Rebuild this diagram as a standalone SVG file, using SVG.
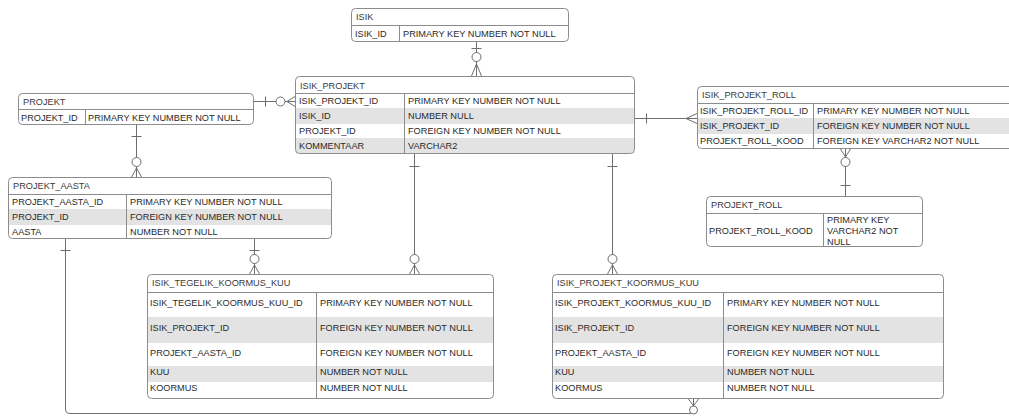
<svg xmlns="http://www.w3.org/2000/svg" width="1009" height="416" viewBox="0 0 1009 416">
<style>
  text { font-family: "Liberation Sans", Arial, sans-serif; font-size: 9.2px; fill: #2a2a2a; }
  text.h { fill: #3a3a3a; }
  .box { fill: none; stroke: #8c8c8c; stroke-width: 1; }
  .bg { fill: #ffffff; }
  .g { fill: #e3e3e3; }
  .hl { stroke: #8c8c8c; stroke-width: 1; }
  .dv { stroke: #8c8c8c; stroke-width: 1; }
  .rl { stroke: #d8d8d8; stroke-width: 0.6; }
  .c { fill: none; stroke: #6e6e6e; stroke-width: 1; }
  .ci { fill: #ffffff; stroke: #6e6e6e; stroke-width: 1; }
</style>
<rect width="1009" height="416" fill="#ffffff"/>

<g id="connectors">
  <!-- ISIK -> ISIK_PROJEKT -->
  <path class="c" d="M476.5,42 V76 M471.5,48.5 H481.5 M476.5,64 L471.5,76 M476.5,64 L481.5,76"/>
  <circle class="ci" cx="476.5" cy="57" r="4.5"/>
  <!-- PROJEKT -> ISIK_PROJEKT -->
  <path class="c" d="M253,101.5 H295 M265.5,96.5 V106.5 M287,101.5 L295,96.5 M287,101.5 L295,106.5"/>
  <circle class="ci" cx="280.5" cy="101.5" r="4.5"/>
  <!-- PROJEKT -> PROJEKT_AASTA -->
  <path class="c" d="M136.5,125 V177 M131.5,136.5 H141.5 M136.5,168 L131.5,177 M136.5,168 L141.5,177"/>
  <circle class="ci" cx="136.5" cy="162" r="4.5"/>
  <!-- ISIK_PROJEKT -> ISIK_PROJEKT_ROLL -->
  <path class="c" d="M634,118.5 H697 M646.5,113.5 V123.5 M686,118.5 L697,113.5 M686,118.5 L697,123.5"/>
  <!-- ISIK_PROJEKT_ROLL -> PROJEKT_ROLL -->
  <path class="c" d="M845.5,149 V196 M845.5,157 L840.5,149 M845.5,157 L850.5,149 M840.5,185.5 H850.5"/>
  <circle class="ci" cx="845.5" cy="162" r="4.5"/>
  <!-- PROJEKT_AASTA -> ISIK_TEGELIK_KOORMUS_KUU -->
  <path class="c" d="M254.5,239 V274 M249.5,250.5 H259.5 M254.5,265 L249.5,274 M254.5,265 L259.5,274"/>
  <circle class="ci" cx="254.5" cy="259" r="4.5"/>
  <!-- ISIK_PROJEKT -> ISIK_TEGELIK_KOORMUS_KUU -->
  <path class="c" d="M414.5,154 V274 M409.5,166.5 H419.5 M414.5,265 L409.5,274 M414.5,265 L419.5,274"/>
  <circle class="ci" cx="414.5" cy="259" r="4.5"/>
  <!-- ISIK_PROJEKT -> ISIK_PROJEKT_KOORMUS_KUU -->
  <path class="c" d="M612.5,154 V274 M607.5,166.5 H617.5 M612.5,265 L607.5,274 M612.5,265 L617.5,274"/>
  <circle class="ci" cx="612.5" cy="259" r="4.5"/>
  <!-- PROJEKT_AASTA -> ISIK_PROJEKT_KOORMUS_KUU -->
  <path class="c" d="M65.5,239 V409 Q65.5,413.5 70,413.5 H689 Q693.5,413.5 693.5,409 V399 M60.5,250.5 H70.5 M693.5,406 L688.5,399 M693.5,406 L698.5,399"/>
  <circle class="ci" cx="693.5" cy="410" r="4"/>
</g>

<g id="ISIK">
  <rect class="bg" x="351.5" y="8.5" width="217" height="33" rx="4"/>
  <line class="hl" x1="351.5" y1="25.5" x2="568.5" y2="25.5"/>
  <line class="dv" x1="399.5" y1="25.5" x2="399.5" y2="41.5"/>
  <rect class="box" x="351.5" y="8.5" width="217" height="33" rx="4"/>
  <text class="h" x="356" y="20">ISIK</text>
  <text x="355" y="37">ISIK_ID</text>
  <text x="403" y="37">PRIMARY KEY NUMBER NOT NULL</text>
</g>

<g id="ISIK_PROJEKT">
  <rect class="bg" x="295.5" y="76.5" width="339" height="77" rx="4"/>
  <rect class="g" x="296" y="108.5" width="338" height="15"/>
  <path class="g" d="M296,138.5 H634 V150 Q634,153 631,153 H299 Q296,153 296,150 Z"/>
  <line class="hl" x1="295.5" y1="93.5" x2="634.5" y2="93.5"/>
  <line class="rl" x1="296" y1="108.5" x2="634" y2="108.5"/>
  <line class="rl" x1="296" y1="123.5" x2="634" y2="123.5"/>
  <line class="rl" x1="296" y1="138.5" x2="634" y2="138.5"/>
  <line class="dv" x1="404.5" y1="93.5" x2="404.5" y2="153.5"/>
  <rect class="box" x="295.5" y="76.5" width="339" height="77" rx="4"/>
  <text class="h" x="300" y="89">ISIK_PROJEKT</text>
  <text x="299" y="104">ISIK_PROJEKT_ID</text>
  <text x="408" y="104">PRIMARY KEY NUMBER NOT NULL</text>
  <text x="299" y="119">ISIK_ID</text>
  <text x="408" y="119">NUMBER NULL</text>
  <text x="299" y="134">PROJEKT_ID</text>
  <text x="408" y="134">FOREIGN KEY NUMBER NOT NULL</text>
  <text x="299" y="149">KOMMENTAAR</text>
  <text x="408" y="149">VARCHAR2</text>
</g>

<g id="PROJEKT">
  <rect class="bg" x="18.5" y="93.5" width="235" height="31" rx="4"/>
  <line class="hl" x1="18.5" y1="109.5" x2="253.5" y2="109.5"/>
  <line class="dv" x1="85.5" y1="109.5" x2="85.5" y2="124.5"/>
  <rect class="box" x="18.5" y="93.5" width="235" height="31" rx="4"/>
  <text class="h" x="23" y="105">PROJEKT</text>
  <text x="21" y="121">PROJEKT_ID</text>
  <text x="88" y="121">PRIMARY KEY NUMBER NOT NULL</text>
</g>

<g id="PROJEKT_AASTA">
  <rect class="bg" x="8.5" y="177.5" width="323" height="61" rx="4"/>
  <rect class="g" x="9" y="209.5" width="322" height="15"/>
  <line class="hl" x1="8.5" y1="194.5" x2="331.5" y2="194.5"/>
  <line class="rl" x1="9" y1="209.5" x2="331" y2="209.5"/>
  <line class="rl" x1="9" y1="224.5" x2="331" y2="224.5"/>
  <line class="dv" x1="126.5" y1="194.5" x2="126.5" y2="238.5"/>
  <rect class="box" x="8.5" y="177.5" width="323" height="61" rx="4"/>
  <text class="h" x="13" y="189">PROJEKT_AASTA</text>
  <text x="12" y="205">PROJEKT_AASTA_ID</text>
  <text x="130" y="205">PRIMARY KEY NUMBER NOT NULL</text>
  <text x="12" y="220">PROJEKT_ID</text>
  <text x="130" y="220">FOREIGN KEY NUMBER NOT NULL</text>
  <text x="12" y="235">AASTA</text>
  <text x="130" y="235">NUMBER NOT NULL</text>
</g>

<g id="ISIK_PROJEKT_ROLL">
  <rect class="bg" x="697.5" y="86.5" width="330" height="62" rx="4"/>
  <rect class="g" x="698" y="118.5" width="330" height="15"/>
  <line class="hl" x1="697.5" y1="103.5" x2="1027" y2="103.5"/>
  <line class="rl" x1="698" y1="118.5" x2="1027" y2="118.5"/>
  <line class="rl" x1="698" y1="133.5" x2="1027" y2="133.5"/>
  <line class="dv" x1="813.5" y1="103.5" x2="813.5" y2="148.5"/>
  <rect class="box" x="697.5" y="86.5" width="330" height="62" rx="4"/>
  <text class="h" x="702" y="98">ISIK_PROJEKT_ROLL</text>
  <text x="700" y="114">ISIK_PROJEKT_ROLL_ID</text>
  <text x="817" y="114">PRIMARY KEY NUMBER NOT NULL</text>
  <text x="700" y="129">ISIK_PROJEKT_ID</text>
  <text x="817" y="129">FOREIGN KEY NUMBER NOT NULL</text>
  <text x="700" y="144">PROJEKT_ROLL_KOOD</text>
  <text x="817" y="144">FOREIGN KEY VARCHAR2 NOT NULL</text>
</g>

<g id="PROJEKT_ROLL">
  <rect class="bg" x="706.5" y="196.5" width="216" height="50" rx="4"/>
  <line class="hl" x1="706.5" y1="213.5" x2="922.5" y2="213.5"/>
  <line class="dv" x1="823.5" y1="213.5" x2="823.5" y2="246.5"/>
  <rect class="box" x="706.5" y="196.5" width="216" height="50" rx="4"/>
  <text class="h" x="711" y="208">PROJEKT_ROLL</text>
  <text x="709" y="234">PROJEKT_ROLL_KOOD</text>
  <text x="827" y="223">PRIMARY KEY</text>
  <text x="827" y="234">VARCHAR2 NOT</text>
  <text x="827" y="245">NULL</text>
</g>

<g id="ISIK_TEGELIK_KOORMUS_KUU">
  <rect class="bg" x="147.5" y="274.5" width="346" height="124" rx="4"/>
  <rect class="g" x="148" y="317.5" width="345" height="25"/>
  <rect class="g" x="148" y="366.5" width="345" height="15"/>
  <line class="hl" x1="147.5" y1="292.5" x2="493.5" y2="292.5"/>
  <line class="rl" x1="148" y1="317.5" x2="493" y2="317.5"/>
  <line class="rl" x1="148" y1="342.5" x2="493" y2="342.5"/>
  <line class="rl" x1="148" y1="366.5" x2="493" y2="366.5"/>
  <line class="rl" x1="148" y1="381.5" x2="493" y2="381.5"/>
  <line class="dv" x1="316.5" y1="292.5" x2="316.5" y2="398.5"/>
  <rect class="box" x="147.5" y="274.5" width="346" height="124" rx="4"/>
  <text class="h" x="152" y="286">ISIK_TEGELIK_KOORMUS_KUU</text>
  <text x="150" y="306">ISIK_TEGELIK_KOORMUS_KUU_ID</text>
  <text x="320" y="306">PRIMARY KEY NUMBER NOT NULL</text>
  <text x="150" y="331">ISIK_PROJEKT_ID</text>
  <text x="320" y="331">FOREIGN KEY NUMBER NOT NULL</text>
  <text x="150" y="356">PROJEKT_AASTA_ID</text>
  <text x="320" y="356">FOREIGN KEY NUMBER NOT NULL</text>
  <text x="150" y="375">KUU</text>
  <text x="320" y="375">NUMBER NOT NULL</text>
  <text x="150" y="391">KOORMUS</text>
  <text x="320" y="391">NUMBER NOT NULL</text>
</g>

<g id="ISIK_PROJEKT_KOORMUS_KUU">
  <rect class="bg" x="552.5" y="274.5" width="391" height="124" rx="4"/>
  <rect class="g" x="553" y="317.5" width="390" height="25"/>
  <rect class="g" x="553" y="366.5" width="390" height="15"/>
  <line class="hl" x1="552.5" y1="292.5" x2="943.5" y2="292.5"/>
  <line class="rl" x1="553" y1="317.5" x2="943" y2="317.5"/>
  <line class="rl" x1="553" y1="342.5" x2="943" y2="342.5"/>
  <line class="rl" x1="553" y1="366.5" x2="943" y2="366.5"/>
  <line class="rl" x1="553" y1="381.5" x2="943" y2="381.5"/>
  <line class="dv" x1="723.5" y1="292.5" x2="723.5" y2="398.5"/>
  <rect class="box" x="552.5" y="274.5" width="391" height="124" rx="4"/>
  <text class="h" x="557" y="286">ISIK_PROJEKT_KOORMUS_KUU</text>
  <text x="555" y="306">ISIK_PROJEKT_KOORMUS_KUU_ID</text>
  <text x="727" y="306">PRIMARY KEY NUMBER NOT NULL</text>
  <text x="555" y="331">ISIK_PROJEKT_ID</text>
  <text x="727" y="331">FOREIGN KEY NUMBER NOT NULL</text>
  <text x="555" y="356">PROJEKT_AASTA_ID</text>
  <text x="727" y="356">FOREIGN KEY NUMBER NOT NULL</text>
  <text x="555" y="375">KUU</text>
  <text x="727" y="375">NUMBER NOT NULL</text>
  <text x="555" y="391">KOORMUS</text>
  <text x="727" y="391">NUMBER NOT NULL</text>
</g>
</svg>
